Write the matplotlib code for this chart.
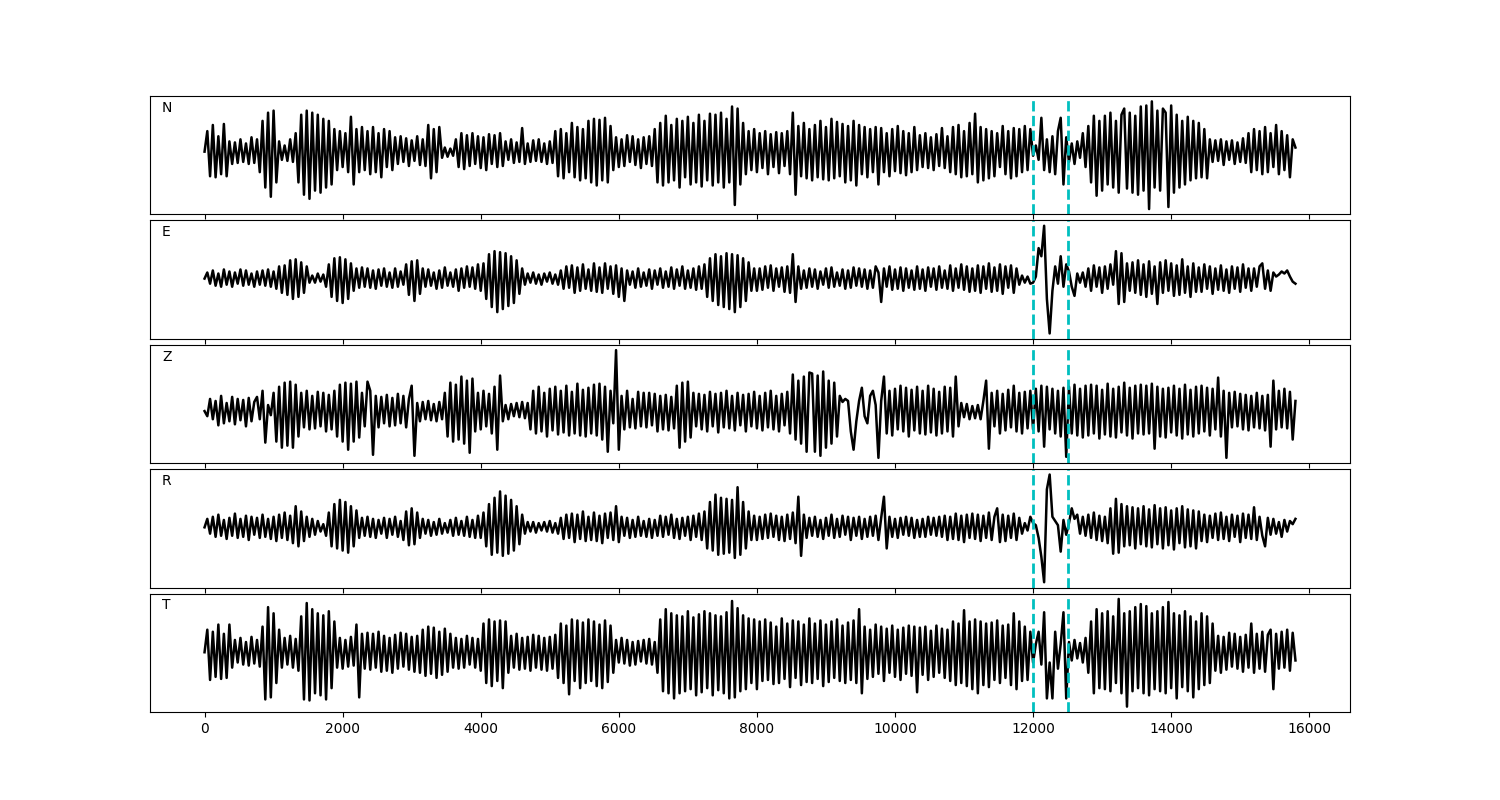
import numpy as np
import matplotlib
matplotlib.use('Agg')
import matplotlib.pyplot as plt

# 各分量的振幅极值（按图读出，约每40个采样点一个极值）
n_trace = [
    0, 20, -24, 26, -25, 15, -22, 27, -24, 10, -12, 9, -11, 12, -10, 8, -12, 14, -11, 12,
    -20, 30, -35, 38, -44, 40, -30, 10, -8, 6, -9, 12, -10, 18, -30, 36, -42, 40, -46, 38,
    -38, 36, -40, 32, -35, 30, -32, 22, -18, 20, -15, 18, -20, 34, -32, 22, -20, 24, -18, 20,
    -22, 24, -20, 18, -25, 22, -15, 20, -18, 14, -12, 15, -10, 13, -14, 11, -9, 15, -13, 12,
    -14, 26, -26, 22, -20, 24, -6, 4, -5, 3, -4, 12, -15, 18, -17, 16, -14, 18, -12, 15,
    -16, 14, -18, 17, -12, 16, -15, 18, -14, 10, -8, 12, -11, 9, -10, 23, -12, 8, -10, 11,
    -9, 12, -10, 8, -12, 10, -11, 20, -24, 22, -26, 18, -20, 28, -25, 24, -28, 22, -26, 30,
    -30, 32, -33, 31, -28, 33, -30, 25, -18, 14, -15, 12, -14, 16, -10, 15, -13, 12, -16, 14,
    -12, 15, -14, 22, -30, 28, -33, 35, -30, 26, -28, 32, -35, 30, -25, 34, -32, 28, -30, 36,
    -34, 30, -28, 37, -33, 36, -30, 38, -35, 32, -30, 44, -52, 42, -32, 28, -22, 20, -18, 22,
    -20, 18, -16, 20, -22, 17, -15, 19, -21, 18, -14, 20, -22, 38, -42, 25, -24, 28, -26, 22,
    -28, 26, -25, 30, -27, 24, -28, 32, -26, 29, -24, 27, -30, 25, -28, 30, -33, 26, -22, 24,
    -25, 22, -20, 24, -32, 23, -20, 18, -24, 22, -19, 25, -21, 20, -23, 18, -20, 24, -18, 16,
    -15, 18, -16, 14, -18, 17, -14, 23, -16, 15, -20, 24, -22, 26, -25, 20, -24, 28, -22, 37,
    -30, 24, -28, 22, -26, 20, -24, 18, -15, 25, -22, 20, -26, 23, -24, 22, -20, 25, -18, 22,
    -4, 6, -8, 33, -18, 12, -20, 15, -22, 20, 33, -32, 14, -10, 8, -12, 10, -6, 18, -15,
    25, -30, 35, -43, 30, -38, 35, -32, 38, -35, 30, -40, 36, 42, -36, 38, -40, 35, -42, 44,
    -38, 45, -56, 49, -35, 40, -38, 42, 38, -54, 45, -40, 36, -35, 30, -32, 34, -28, 30, -26,
    28, -25, 22, -26, 12, -10, 11, -9, 12, -13, 10, -8, 11, -12, 9, -10, 13, -11, 18, -20,
    22, -18, 20, -22, 24, -20, 18, -15, 26, -22, 20, -18, 16, -25, 12, 4,
]

e_trace = [
    0, 6, -5, 8, -7, 5, -8, 9, -6, 7, -8, 6, -5, 9, -7, 8, -6, 5, -8, 7,
    -6, 8, -7, 9, -8, 7, -10, 12, -14, 13, -16, 18, -20, 19, -18, 16, -14, 12, -4, 3,
    -4, 5, -3, 4, -8, 14, -18, 20, -22, 21, -24, 19, -20, 15, -12, 10, -9, 11, -8, 10,
    -9, 8, -10, 9, -7, 10, -8, 6, -9, 10, -8, 7, -6, 14, -16, 17, -22, 18, -15, 10,
    -8, 9, -7, 6, -10, 8, -9, 11, -7, 6, -8, 9, -12, 10, -9, 12, -8, 11, -10, 14,
    -12, 15, -20, 24, -28, 27, -33, 26, -30, 25, -27, 22, -24, 18, -15, 10, -6, 5, -4, 6,
    -5, 4, -6, 5, -3, 6, -5, 4, -6, 8, -10, 12, -9, 13, -14, 11, -12, 14, -10, 9,
    -12, 15, -13, 11, -14, 15, -10, 12, -15, 13, -18, 10, -22, 8, -6, 7, -9, 10, -8, 6,
    -7, 9, -10, 8, -6, 10, -9, 7, -8, 11, -10, 9, -7, 12, -10, 8, -9, 10, -11, 12,
    -10, 14, -18, 20, -22, 24, -26, 22, -28, 25, -30, 24, -33, 23, -28, 20, -22, 16, -12, 10,
    -12, 10, -11, 12, -9, 13, -12, 10, -8, 11, -13, 12, -14, 24, -23, 12, -10, 8, -9, 10,
    -8, 9, -10, 7, -6, 10, -9, 11, -8, 6, -7, 9, -10, 8, -9, 11, -7, 10, -8, 9,
    -10, 8, -9, 12, 6, -23, 10, -8, 12, -11, 9, -10, 11, -12, 10, -9, 8, -11, 12, -10,
    9, -12, 11, -8, 10, -11, 12, -9, 8, -10, 13, -12, 10, -9, 14, -11, 12, -13, 10, -12,
    13, -14, 12, -10, 15, -13, 11, -12, 14, -15, 12, -9, 13, -14, 10, -6, 3, -4, 2, -5,
    -4, 2, 30, 22, 52, -20, -54, -12, 12, -5, 22, -8, 14, 7, -8, -17, 5, -4, 6, -8,
    10, -12, 13, -8, 11, -14, 12, -10, 14, -6, 27, -25, 25, -23, 15, -12, 16, -14, 18, -16,
    14, -18, 17, -15, 12, -25, 16, -14, 18, -12, 15, -17, 13, -16, 19, -14, 12, -18, 15, -13,
    11, -13, 14, -10, 12, -15, 10, -11, 13, -12, 9, -14, 12, -10, 11, -13, 14, -9, 10, -12,
    10, -8, 12, 15, -10, 8, -12, 6, 2, 4, 7, 5, 8, 2, -3, -5,
]

z_trace = [
    0, -5, 12, -8, 10, -14, 15, -12, 8, -10, 14, -13, 12, -9, 11, -15, 13, -10, 9, 14,
    -8, 20, -31, 6, -4, 18, -30, 24, -36, 28, -34, 29, -36, 26, -25, 18, -16, 20, -18, 15,
    -17, 19, -15, 18, -20, 16, -18, 20, -25, 26, -30, 28, -38, 27, -30, 29, -26, 18, -15, 29,
    20, -43, 15, -16, 14, -12, 16, -15, 13, -14, 17, -12, 15, -16, 12, 25, -44, 8, -10, 9,
    -8, 10, -9, 7, -10, 9, -8, 18, -25, 28, -30, 26, -28, 34, -32, 30, -41, 32, -20, 18,
    -18, 20, -15, 17, -22, 24, -38, 35, -10, 6, -8, 7, -5, 8, -6, 9, -7, 8, -18, 20,
    -22, 24, -20, 18, -25, 22, -19, 24, -23, 20, -21, 25, -24, 19, -22, 27, -24, 21, -25, 23,
    -22, 26, -24, 27, -28, 24, -40, 20, -12, 60, -38, 15, -18, 20, -16, 12, -17, 19, -15, 18,
    -16, 18, -14, 17, -20, 15, -18, 16, -19, 14, -17, 25, -36, 28, -30, 29, -26, 18, -15, 17,
    -18, 16, -20, 19, -15, 17, -21, 18, -16, 20, -17, 15, -19, 18, -14, 16, -20, 17, -15, 19,
    -17, 15, -19, 18, -16, 20, -18, 15, -20, 17, -14, 19, -22, 36, -28, 30, -32, 34, -40, 38,
    37, -40, 35, -44, 39, -36, 30, -32, 28, -25, 15, 9, 12, 10, -20, -38, -10, 10, 23, -5,
    -12, 15, 20, 6, -46, 10, 34, -22, 20, -24, 22, -18, 25, -20, 23, -25, 21, -19, 24, -22,
    20, -23, 25, -21, 22, -24, 19, -22, 24, -20, 23, -25, 34, -15, 8, -6, 7, -8, 5, -7,
    6, -8, 10, 30, -37, 18, -15, 20, -22, 17, -19, 21, -16, 25, -20, 18, -22, 19, -17, 20,
    -18, 22, -20, 25, -35, 24, -18, 22, -22, 20, -25, 23, -45, 24, -22, 26, -24, 22, -26, 25,
    -24, 26, -22, 25, -27, 21, -23, 27, -25, 22, -26, 24, -21, 28, -24, 23, -27, 25, -22, 26,
    -23, 25, -22, 27, -37, 24, -25, 22, -26, 23, -21, 25, -24, 22, -27, 26, -23, 21, -25, 24,
    -22, 25, -20, 23, -24, 22, -18, 33, -25, 20, -46, 18, -16, 19, -15, 17, -18, 16, -19, 15,
    -16, 18, -17, 15, -19, 16, -35, 30, -18, 20, -16, 22, -17, 19, -28, 10,
]

r_trace = [
    0, 8, -6, 10, -9, 12, -8, 7, -11, 9, -8, 13, -10, 8, -9, 11, -12, 10, -7, 9,
    -10, 12, -9, 8, -11, 10, -13, 12, -10, 14, -12, 11, -15, 20, -18, 15, -13, 10, -9, 8,
    -7, 6, -4, 3, -8, 14, -18, 22, -20, 26, -22, 24, -24, 20, -18, 16, -10, 9, -8, 10,
    -9, 8, -10, 7, -6, 9, -10, 8, -7, 10, -9, 6, -12, 15, -17, 18, -16, 14, -10, 8,
    -6, 7, -8, 5, -7, 8, -6, 4, -5, 7, -8, 9, -7, 6, -8, 10, -9, 7, -10, 11,
    -10, 14, -18, 22, -26, 28, -24, 34, -27, 30, -25, 26, -22, 20, -16, 12, -6, 5, -4, 5,
    -5, 4, -3, 5, -4, 6, -5, 4, -6, 9, -11, 12, -10, 13, -14, 12, -11, 15, -13, 10,
    -12, 14, -13, 11, -15, 13, -10, 14, -12, 20, -14, 10, -8, 9, -10, 7, -9, 10, -8, 6,
    -9, 8, -10, 7, -8, 11, -9, 10, -7, 12, -10, 8, -11, 9, -8, 10, -12, 11, -9, 13,
    -12, 15, -20, 24, -22, 31, -26, 28, -25, 27, -24, 26, -29, 38, -26, 24, -20, 15, -12, 11,
    -12, 10, -11, 12, -10, 13, -9, 11, -12, 10, -13, 12, -11, 14, -15, 29, -27, 12, -10, 9,
    -8, 10, -9, 7, -11, 9, -8, 12, -10, 8, -9, 11, -7, 10, -12, 9, -8, 10, -11, 8,
    -9, 10, -8, 11, -12, 9, 29, -20, 10, -9, 8, -10, 9, -7, 10, -8, 9, -10, 7, -9,
    8, -9, 10, -7, 9, -8, 10, -9, 11, -12, 10, -11, 13, -12, 11, -14, 12, -10, 13, -11,
    12, -13, 11, -10, 14, -12, 10, 18, -14, 12, -13, 11, -10, 13, -12, 9, -6, 4, -3, 10,
    4, 2, -10, -28, -52, 36, 50, 10, 6, 2, -23, 7, -7, 4, 18, 8, 12, -6, 10, -8,
    12, -10, 14, -12, 11, -13, 10, -15, 18, -25, 27, -24, 22, -18, 20, -17, 19, -20, 18, -16,
    20, -18, 17, -19, 21, -16, 18, -20, 19, -17, 16, -21, 18, -15, 20, -19, 17, -18, 16, -20,
    15, -13, 12, -14, 11, -10, 13, -12, 14, -11, 10, -13, 12, -9, 11, -14, 13, -10, 12, -11,
    19, -12, 10, -8, -18, 9, -7, 8, -6, 5, -9, 7, -4, 6, 3, 8,
]

t_trace = [
    0, 22, -27, 20, -24, 27, -26, 18, -25, 27, -15, 12, -10, 14, -12, 10, -13, 15, -11, 12,
    -14, 25, -46, 44, -44, 38, -30, 22, -15, 14, -12, 16, -15, 13, -18, 35, -46, 48, -47, 42,
    -40, 38, -42, 36, -46, 40, -35, 30, -15, 14, -16, 12, -14, 15, -13, 27, -44, 18, -16, 19,
    -17, 18, -15, 20, -19, 16, -18, 14, -20, 17, -16, 19, -14, 18, -17, 15, -19, 16, -20, 22,
    -23, 25, -21, 24, -25, 20, -22, 23, -19, 18, -15, 14, -16, 13, -15, 16, -12, 14, -15, 13,
    -18, 28, -30, 32, -33, 30, -28, 31, -35, 30, -20, 16, -15, 18, -17, 14, -16, 15, -18, 17,
    -15, 16, -17, 14, -18, 15, -16, 17, -25, 28, -30, 26, -41, 32, -28, 31, -35, 29, -30, 32,
    -28, 30, -33, 27, -35, 31, -29, 26, -20, 12, -10, 14, -11, 12, -13, 10, -12, 11, -9, 12,
    -11, 13, -12, 10, -20, 32, -38, 42, -40, 38, -45, 36, -40, 35, -38, 40, -36, 34, -42, 37,
    -39, 40, -35, 38, -42, 36, -37, 35, -40, 39, -45, 50, -44, 43, -38, 36, -36, 33, -30, 32,
    -36, 30, -28, 32, -27, 29, -31, 25, -30, 33, -26, 28, -34, 31, -25, 30, -32, 27, -29, 33,
    -30, 28, -26, 31, -33, 27, -29, 30, -25, 32, -28, 26, -30, 29, -27, 31, -30, 42, -40, 25,
    -26, 22, -24, 27, -21, 25, -28, 23, -20, 26, -24, 22, -27, 24, -21, 26, -23, 25, -39, 24,
    -22, 25, -27, 21, -24, 26, -20, 23, -25, 22, -28, 30, -32, 28, -30, 41, -33, 30, -36, 32,
    -40, 30, -32, 28, -34, 29, -27, 31, -30, 26, -25, 27, -32, 38, -36, 30, -28, 25, -27, 20,
    -10, 8, 20, -12, 39, -45, -10, -45, 20, -16, 8, 39, -45, 10, -8, 12, -6, 9, -10, 14,
    -20, 30, -40, 42, -35, 38, -36, 40, -38, 35, -30, 52, -40, 38, -53, 40, -38, 44, -35, 47,
    -40, 45, -42, 38, -36, 40, -38, 44, -40, 49, -35, 38, -45, 36, -34, 40, -38, 35, -44, 30,
    -36, 38, -32, 35, -30, 28, -18, 16, -20, 15, -17, 19, -14, 18, -16, 15, -19, 17, -15, 28,
    -20, 18, -16, 20, -19, 17, 22, -36, 18, -16, 20, -15, 22, -18, 19, -8,
]

components = ['N', 'E', 'Z', 'R', 'T']
traces = [n_trace, e_trace, z_trace, r_trace, t_trace]
t_end = 15800          # 最后一个采样点
picks = [12000, 12500]  # 两条虚线位置

fig, axes = plt.subplots(5, 1, figsize=(15, 8), sharex=True)
fig.subplots_adjust(left=0.1, right=0.9, top=0.88, bottom=0.11, hspace=0.05)

for ax, name, vals in zip(axes, components, traces):
    x = np.linspace(0, t_end, len(vals))
    ax.plot(x, vals, color='k', lw=1.8)
    for p in picks:
        ax.axvline(p, color='c', ls='--', lw=2)
    ax.text(0.01, 0.9, name, transform=ax.transAxes, fontsize=10, va='center')
    ax.set_yticks([])

axes[-1].set_xticks(np.arange(0, 16001, 2000))

plt.savefig('out.png', dpi=100)
